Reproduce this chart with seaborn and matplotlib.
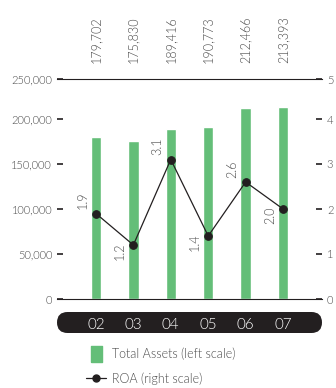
import matplotlib
matplotlib.use("Agg")
import matplotlib.pyplot as plt
import numpy as np
import seaborn as sns
from matplotlib.lines import Line2D
from matplotlib.patches import FancyBboxPatch
from matplotlib.path import Path

years = ["02", "03", "04", "05", "06", "07"]
total_assets = [179702, 175830, 189416, 190773, 212466, 213393]
roa = [1.9, 1.2, 3.1, 1.4, 2.6, 2.0]
left_ticks = [0, 50000, 100000, 150000, 200000, 250000]
right_ticks = [0, 1, 2, 3, 4, 5]

GREEN = "#64BE78"
DARK = "#231F20"
GREY = "#4A4A4A"

sns.set_style("white")
plt.rcParams["font.family"] = ["Lato", "DejaVu Sans"]
plt.rcParams["font.weight"] = 300

fig = plt.figure(figsize=(3.36, 3.88), dpi=100)
W, H = 336, 388
ax = fig.add_axes([57 / W, (H - 299) / H, (322 - 57) / W, 220 / H])

sns.barplot(x=years, y=total_assets, color=GREEN, saturation=1, width=0.28, ax=ax)
n = len(years)
ax.set_xlim(-1.04, n - 1 + 1.04)

# top line sits a bit below the nominal 250,000 in the original
shrink = 220 / 225
ax.set_ylim(0, left_ticks[-1] * shrink)
ax.set_yticks(left_ticks[:-1] + [left_ticks[-1] * shrink])
ax.set_yticklabels([f"{v:,}" for v in left_ticks], color=GREY, fontsize=8)
ax.set_xlabel("")
ax.set_ylabel("")

for s in ["left", "right"]:
    ax.spines[s].set_visible(False)
for s in ["top", "bottom"]:
    ax.spines[s].set_color(DARK)
    ax.spines[s].set_linewidth(0.8)
ax.tick_params(axis="y", which="major", direction="in", length=4.5, width=1.2,
               color=DARK, pad=3.5, left=True)
ax.tick_params(axis="x", length=0, pad=14, labelcolor="white", labelsize=11)

# value labels above the chart
for i, v in enumerate(total_assets):
    ax.annotate(f"{v:,}", xy=(i, 1), xycoords=("data", "axes fraction"),
                xytext=(0, 11.5), textcoords="offset points",
                rotation=90, ha="center", va="bottom", fontsize=9, color=GREY)

ax2 = ax.twinx()
sns.lineplot(x=np.arange(n), y=roa, ax=ax2, color=DARK, linewidth=0.9,
             marker="o", markersize=5.5, markeredgecolor=DARK)
ax2.set_ylim(0, right_ticks[-1] * shrink)
ax2.set_yticks(right_ticks[:-1] + [right_ticks[-1] * shrink])
ax2.set_yticklabels([str(v) for v in right_ticks], color=GREY, fontsize=8)
ax2.set_ylabel("")
for s in ["left", "right", "top", "bottom"]:
    ax2.spines[s].set_visible(False)
ax2.tick_params(axis="y", which="major", direction="in", length=4.5, width=1.2,
                color=DARK, pad=3.5, right=True)

for i, v in enumerate(roa):
    above = i == 0 or v > roa[i - 1]
    ax2.annotate(f"{v:.1f}", xy=(i, v), xytext=(-9.5, 3 if above else 2),
                 textcoords="offset points", rotation=90, ha="center",
                 va="bottom" if above else "top", fontsize=9, color=GREY)

# black pill behind the year labels
pill = FancyBboxPatch((0.57, (H - 333) / 100), 2.65, 0.21,
                      boxstyle="round,pad=0,rounding_size=0.105",
                      transform=fig.dpi_scale_trans, facecolor=DARK, edgecolor="none", zorder=0)
fig.patches.append(pill)
ax.set_zorder(1)
ax2.set_zorder(2)
ax.patch.set_visible(False)
ax2.patch.set_visible(False)

rect = Path([(-0.36, -0.5), (0.36, -0.5), (0.36, 0.5), (-0.36, 0.5), (-0.36, -0.5)])
handles = [
    Line2D([], [], marker=rect, color=GREEN, linestyle="none", markersize=11),
    Line2D([], [], marker="o", color=DARK, linewidth=0.9, markersize=5),
]
fig.legend(handles, ["Total Assets (left scale)", "ROA (right scale)"],
           loc="upper left", bbox_to_anchor=(86 / W, 1 - 348 / H),
           frameon=False, fontsize=9, handlelength=1.6, handletextpad=0.45,
           labelspacing=0.95, borderpad=0, borderaxespad=0, labelcolor=GREY)

fig.savefig("out.png", dpi=100)
